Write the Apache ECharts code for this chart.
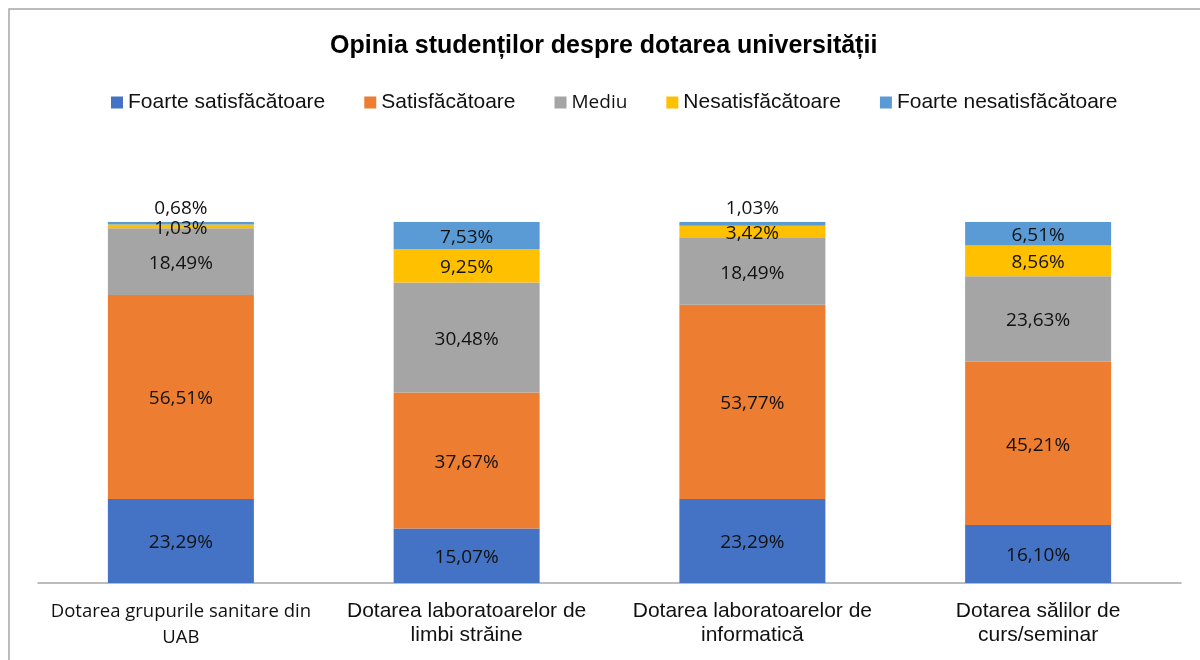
<!DOCTYPE html>
<html>
<head>
<meta charset="utf-8">
<script src="https://cdn.jsdelivr.net/npm/echarts@6/dist/echarts.min.js"></script>
<style>
  html, body { margin: 0; padding: 0; background: #fff; }
  #chart { width: 1200px; height: 660px; }
</style>
</head>
<body>
<div id="chart"></div>
<script>
  // categorii (axa X)
  const categorii = [
    'Dotarea grupurile sanitare din\nUAB',
    'Dotarea laboratoarelor de\nlimbi străine',
    'Dotarea laboratoarelor de\ninformatică',
    'Dotarea sălilor de\ncurs/seminar'
  ]
  // valori procentuale pe fiecare nivel de satisfactie
  const foarteSatisfacatoare = [23.29, 15.07, 23.29, 16.10]
  const satisfacatoare = [56.51, 37.67, 53.77, 45.21]
  const mediu = [18.49, 30.48, 18.49, 23.63]
  const nesatisfacatoare = [1.03, 9.25, 3.42, 8.56]
  const foarteNesatisfacatoare = [0.68, 7.53, 1.03, 6.51]

  const culori = ['#4472C4', '#ED7D31', '#A5A5A5', '#FFC000', '#5B9BD5']
  const numeSerii = ['Foarte satisfăcătoare', 'Satisfăcătoare', 'Mediu', 'Nesatisfăcătoare', 'Foarte nesatisfăcătoare']
  const valori = [foarteSatisfacatoare, satisfacatoare, mediu, nesatisfacatoare, foarteNesatisfacatoare]

  /*eticheta cu virgula zecimala*/
  const fmt = v => v.toFixed(2).replace('.', ',') + '%'

  let chart = echarts.init(document.getElementById('chart'))

  let series = valori.map((vals, i) => {
    return {
      name: numeSerii[i],
      type: 'bar',
      stack: 'total',
      barWidth: 146,
      itemStyle: { color: culori[i] },
      label: {
        show: true,
        position: 'inside',
        offset: [0, 2],
        color: '#111',
        fontFamily: 'Open Sans',
        fontSize: 19,
        formatter: p => fmt(p.value)
      },
      data: vals.map((v, j) => {
        // ultimele segmente foarte mici au eticheta deasupra
        if (i === 4 && v < 2) {
          return { value: v, label: { position: 'top', distance: 4, offset: [0, 0] } }
        }
        return v
      })
    }
  })

  let option = {
    animation: false,
    backgroundColor: '#fff',
    title: {
      text: 'Opinia studenților despre dotarea universității',
      left: 325,
      top: 29,
      textStyle: { fontFamily: 'Liberation Sans', fontWeight: 'bold', fontSize: 25, color: '#000' }
    },
    legend: {
      left: 106,
      top: 87,
      itemWidth: 12,
      itemHeight: 12,
      itemGap: 39,
      icon: 'rect',
      textStyle: { fontFamily: 'Liberation Sans', fontSize: 21, color: '#111' },
      data: numeSerii.map(n => n === 'Mediu'
        ? { name: n, textStyle: { fontFamily: 'Open Sans', fontSize: 19 } }
        : { name: n })
    },
    grid: { left: 38, right: 19, top: 222, bottom: 77 },
    xAxis: {
      type: 'category',
      data: categorii,
      axisLine: { lineStyle: { color: '#a6a6a6', width: 1.5 } },
      axisTick: { show: false },
      axisLabel: {
        interval: 0,
        margin: 16,
        color: '#111',
        fontFamily: 'Liberation Sans',
        fontSize: 21,
        lineHeight: 24,
        formatter: (v, idx) => idx === 0 ? '{c|' + v.split('\n').join('}\n{c|') + '}' : v,
        rich: {
          c: { fontFamily: 'Open Sans', fontSize: 18.5, lineHeight: 26, color: '#111' }
        }
      }
    },
    yAxis: {
      type: 'value',
      min: 0,
      max: 100,
      show: false,
      splitLine: { show: false }
    },
    graphic: [{
      type: 'rect',
      shape: { x: 9, y: 9, width: 1200, height: 660 },
      style: { fill: 'none', stroke: '#a6a6a6', lineWidth: 1.5 },
      silent: true
    }],
    series: series
  }
  chart.setOption(option)
</script>
</body>
</html>
